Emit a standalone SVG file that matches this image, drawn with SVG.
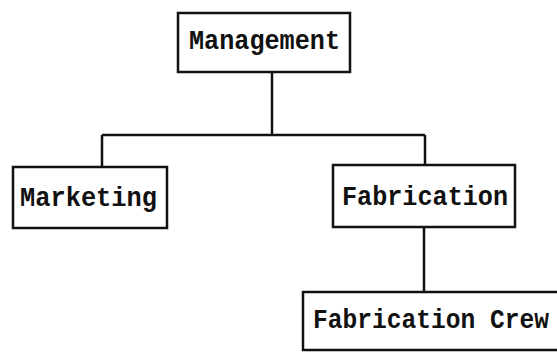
<svg xmlns="http://www.w3.org/2000/svg" width="557" height="352" viewBox="0 0 557 352">
<style>
.box{fill:#fff;stroke:#111;stroke-width:2.5}
.lbl{font-family:"Liberation Mono","DejaVu Sans Mono",monospace;font-weight:bold;font-size:27px;fill:#111}
.con{fill:none;stroke:#111;stroke-width:2.5}
</style>
<rect width="557" height="352" fill="#fff"/>
<g id="connectors">
<path class="con" d="M272 72 V135 M102 135 H425 M102 135 V167 M425 135 V165 M424 227 V292"/>
</g>
<g id="management">
<rect class="box" x="178" y="13" width="172" height="59"/>
<text class="lbl" x="189" y="49" textLength="151" lengthAdjust="spacingAndGlyphs">Management</text>
</g>
<g id="marketing">
<rect class="box" x="13" y="167" width="154" height="61"/>
<text class="lbl" x="20" y="206" textLength="137" lengthAdjust="spacingAndGlyphs">Marketing</text>
</g>
<g id="fabrication">
<rect class="box" x="333" y="165" width="182" height="62"/>
<text class="lbl" x="342" y="205" textLength="166" lengthAdjust="spacingAndGlyphs">Fabrication</text>
</g>
<g id="fabrication-crew">
<rect class="box" x="303" y="292" width="270" height="58"/>
<text class="lbl" x="313" y="328" textLength="236" lengthAdjust="spacingAndGlyphs">Fabrication Crew</text>
</g>
</svg>
